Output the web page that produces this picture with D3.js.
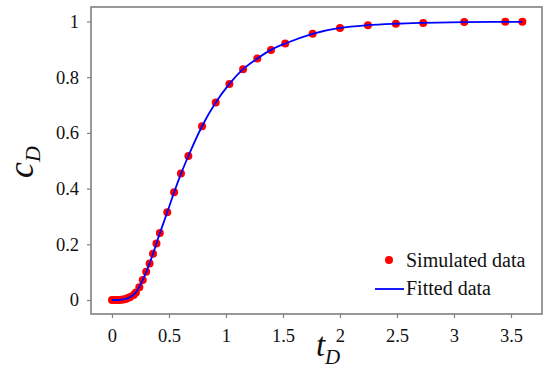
<!DOCTYPE html>
<html><head><meta charset="utf-8">
<script src="https://cdn.jsdelivr.net/npm/d3@7"></script>
<style>body{margin:0;background:#fff}svg{display:block}
svg text{font-family:"Liberation Serif","Times New Roman","DejaVu Serif",serif !important;}
</style>
</head><body>
<svg id="c" width="550" height="380"></svg>
<script>
const simT = [0, 0.02, 0.04, 0.06, 0.08, 0.10, 0.12, 0.14, 0.16, 0.19, 0.21, 0.24, 0.27, 0.30, 0.33, 0.36, 0.39, 0.42, 0.485, 0.545, 0.605, 0.67, 0.79, 0.91, 1.03, 1.15, 1.275, 1.395, 1.52, 1.76, 2.0, 2.245, 2.49, 2.73, 3.09, 3.45, 3.6];
const simC = [0, 0, 0, 0, 0.001, 0.002, 0.004, 0.007, 0.011, 0.018, 0.027, 0.046, 0.072, 0.101, 0.131, 0.166, 0.203, 0.241, 0.315, 0.387, 0.454, 0.517, 0.624, 0.709, 0.776, 0.829, 0.867, 0.898, 0.921, 0.956, 0.977, 0.987, 0.992, 0.995, 0.998, 0.999, 0.999];
const fitT = [0, 0.04, 0.08, 0.12, 0.16, 0.19, 0.21, 0.24, 0.27, 0.30, 0.33, 0.36, 0.39, 0.42, 0.485, 0.545, 0.605, 0.67, 0.79, 0.91, 1.03, 1.15, 1.275, 1.395, 1.52, 1.76, 2.0, 2.245, 2.49, 2.73, 3.09, 3.45, 3.6];
const fitC = [0, 0, 0.001, 0.004, 0.011, 0.019, 0.028, 0.047, 0.072, 0.100, 0.132, 0.166, 0.203, 0.240, 0.315, 0.387, 0.453, 0.517, 0.624, 0.709, 0.776, 0.829, 0.867, 0.898, 0.921, 0.956, 0.977, 0.987, 0.992, 0.995, 0.998, 0.999, 0.999];
const xTicks = [0, 0.5, 1, 1.5, 2, 2.5, 3, 3.5];
const xTickLabels = ["0", "0.5", "1", "1.5", "2", "2.5", "3", "3.5"];
const yTicks = [0, 0.2, 0.4, 0.6, 0.8, 1];
const yTickLabels = ["0", "0.2", "0.4", "0.6", "0.8", "1"];
const legendLabels = ["Simulated data", "Fitted data"];

const svg = d3.select("#c");
const L = 91, R = 542, T = 7, B = 314;
const x = d3.scaleLinear().domain([-0.184, 3.772]).range([L, R]);
const y = d3.scaleLinear().domain([-0.0503, 1.0521]).range([B, T]);
const gray = "#808080";

// axes
const xa = svg.append("g").attr("transform", `translate(0,${B})`)
  .call(d3.axisBottom(x).tickValues(xTicks).tickFormat((d,i)=>xTickLabels[i]).tickSize(4).tickSizeOuter(0).tickPadding(11));
const ya = svg.append("g").attr("transform", `translate(${L},0)`)
  .call(d3.axisLeft(y).tickValues(yTicks).tickFormat((d,i)=>yTickLabels[i]).tickSize(4).tickSizeOuter(0).tickPadding(8));
[xa, ya].forEach(g => {
  g.select(".domain").remove();
  g.selectAll(".tick line").attr("stroke", gray).attr("stroke-width", 1.2);
  g.selectAll(".tick text").style("font-size", "18.5px").attr("fill", "#111");
});

// frame
svg.append("rect").attr("x", L).attr("y", T).attr("width", R - L).attr("height", B - T)
  .attr("fill", "none").attr("stroke", gray).attr("stroke-width", 1.6);

// points
const pts = simT.map((t, i) => [t, simC[i]]);
svg.append("g").selectAll("circle").data(pts).join("circle")
  .attr("cx", d => x(d[0])).attr("cy", d => y(d[1])).attr("r", 4).attr("fill", "#ff0000");

// fitted line
const fit = fitT.map((t, i) => [t, fitC[i]]);
svg.append("path").datum(fit)
  .attr("d", d3.line().x(d => x(d[0])).y(d => y(d[1])).curve(d3.curveMonotoneX))
  .attr("fill", "none").attr("stroke", "#0000ff").attr("stroke-width", 1.8);

// axis titles
const yl = svg.append("text").attr("transform", "translate(33,162) rotate(-90)")
  .style("font-style", "italic").attr("text-anchor", "middle").attr("fill", "#111");
yl.append("tspan").style("font-size", "36px").text("c");
yl.append("tspan").style("font-size", "22px").attr("dy", 7).text("D");

svg.append("text").attr("x", 316).attr("y", 356)
  .style("font-style", "italic").style("font-size", "33px").attr("fill", "#111").text("t");
svg.append("text").attr("x", 325).attr("y", 364)
  .style("font-style", "italic").style("font-size", "21px").attr("fill", "#111").text("D");

// legend
const lg = svg.append("g");
lg.append("circle").attr("cx", 389).attr("cy", 260).attr("r", 4).attr("fill", "#ff0000");
lg.append("line").attr("x1", 375).attr("x2", 404).attr("y1", 289).attr("y2", 289).attr("stroke", "#0000ff").attr("stroke-width", 1.8);
lg.selectAll("text").data(legendLabels).join("text")
  .attr("x", 406).attr("y", (d, i) => 267 + i * 28)
  .style("font-size", "20px").attr("fill", "#111").text(d => d);
</script>
</body></html>
